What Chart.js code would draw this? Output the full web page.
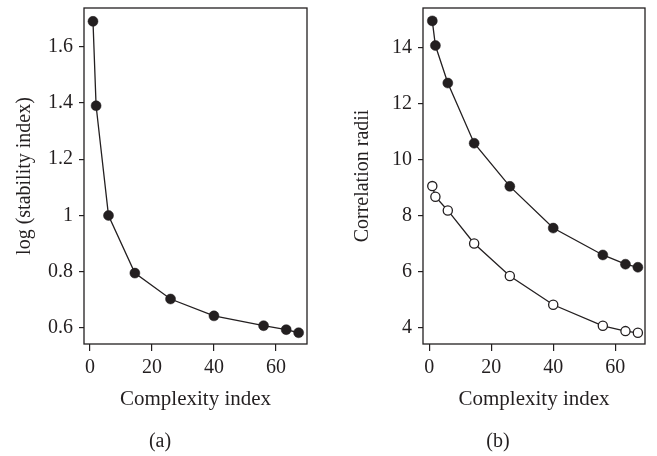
<!DOCTYPE html>
<html>
<head>
<meta charset="utf-8">
<script src="https://cdn.jsdelivr.net/npm/chart.js@4.4.1/dist/chart.umd.min.js"></script>
<style>
  html, body { margin: 0; padding: 0; background: #fff; }
  .panel { position: absolute; top: 0; height: 456px; }
  #wrapA { left: 0; width: 330px; }
  #wrapB { left: 330px; width: 327px; }
</style>
</head>
<body>
<div class="panel" id="wrapA"><canvas id="chartA"></canvas></div>
<div class="panel" id="wrapB"><canvas id="chartB"></canvas></div>
<script>
const ink = '#231f20';

// complexity index (shared x values)
const complexity = [1, 2, 6, 14.5, 26, 40, 56, 63.3, 67.3];
// panel (a)
const logStability = [1.69, 1.39, 1.0, 0.795, 0.703, 0.643, 0.608, 0.594, 0.583];
// panel (b)
const radiiFilled = [14.96, 14.08, 12.74, 10.59, 9.05, 7.56, 6.60, 6.27, 6.16];
const radiiOpen = [9.06, 8.68, 8.19, 7.01, 5.85, 4.82, 4.07, 3.88, 3.82];

const xTicks = [0, 20, 40, 60];
const yTicksA = [0.6, 0.8, 1.0, 1.2, 1.4, 1.6];
const yTicksB = [4, 6, 8, 10, 12, 14];

Chart.defaults.font.family = '"Liberation Serif", "DejaVu Serif", serif';
Chart.defaults.font.size = 20;
Chart.defaults.color = ink;

// box around the plot area
const frame = {
  id: 'frame',
  afterDraw(chart) {
    const a = chart.chartArea, ctx = chart.ctx;
    ctx.save();
    ctx.strokeStyle = ink;
    ctx.lineWidth = 1.3;
    ctx.strokeRect(a.left, a.top, a.right - a.left, a.bottom - a.top);
    ctx.restore();
  }
};

const pts = (ys) => complexity.map((x, i) => ({ x: x, y: ys[i] }));

function series(ys, filled) {
  return {
    data: pts(ys),
    showLine: true,
    borderColor: ink,
    borderWidth: 1.3,
    tension: 0,
    pointRadius: filled ? 5 : 4.6,
    pointHoverRadius: 5,
    pointBackgroundColor: filled ? ink : '#fff',
    pointBorderColor: ink,
    pointBorderWidth: filled ? 0.5 : 1.3
  };
}

function makePanel(id, cfg) {
  new Chart(document.getElementById(id), {
    type: 'scatter',
    data: { datasets: cfg.datasets },
    options: {
      responsive: true,
      maintainAspectRatio: false,
      animation: false,
      layout: { padding: { left: cfg.padLeft, right: cfg.padRight, top: 8, bottom: 2 } },
      plugins: {
        legend: { display: false },
        tooltip: { enabled: false },
        title: {
          display: true,
          text: cfg.caption,
          position: 'bottom',
          font: { size: 20, weight: 'normal', lineHeight: 1.2 },
          padding: { top: 18, bottom: 0 }
        }
      },
      scales: {
        x: {
          type: 'linear',
          min: cfg.xMin, max: cfg.xMax,
          afterBuildTicks: s => { s.ticks = xTicks.map(v => ({ value: v })); },
          afterFit: s => { s.height = 68; s.paddingLeft = 0; s.paddingRight = 0; },
          border: { display: false },
          grid: { drawOnChartArea: false, drawTicks: true, tickLength: 7, color: ink, lineWidth: 1.2 },
          ticks: { padding: 5, color: ink, maxRotation: 0 },
          title: { display: true, text: 'Complexity index', padding: 0, font: { size: 21, lineHeight: 1.2 } }
        },
        y: {
          type: 'linear',
          min: cfg.yMin, max: cfg.yMax,
          afterBuildTicks: s => { s.ticks = cfg.yTicks.map(v => ({ value: v })); },
          afterFit: s => { s.width = cfg.yWidth; s.paddingTop = 0; s.paddingBottom = 0; },
          border: { display: false },
          grid: { drawOnChartArea: false, drawTicks: true, tickLength: 5, color: ink, lineWidth: 1.2 },
          ticks: { padding: 6, color: ink, callback: v => String(+v.toFixed(1)) },
          title: { display: true, text: cfg.yTitle, padding: 0, font: { size: 20, lineHeight: 1.2 } }
        }
      }
    },
    plugins: [frame]
  });
}

makePanel('chartA', {
  datasets: [series(logStability, true)],
  caption: '(a)',
  yTitle: 'log (stability index)',
  yTicks: yTicksA,
  xMin: -1.9, xMax: 70,
  yMin: 0.543, yMax: 1.7375,
  padLeft: 13, padRight: 23, yWidth: 71
});

makePanel('chartB', {
  datasets: [series(radiiFilled, true), series(radiiOpen, false)],
  caption: '(b)',
  yTitle: 'Correlation radii',
  yTicks: yTicksB,
  xMin: -2, xMax: 69.6,
  yMin: 3.42, yMax: 15.42,
  padLeft: 21, padRight: 12, yWidth: 72
});
</script>
</body>
</html>
